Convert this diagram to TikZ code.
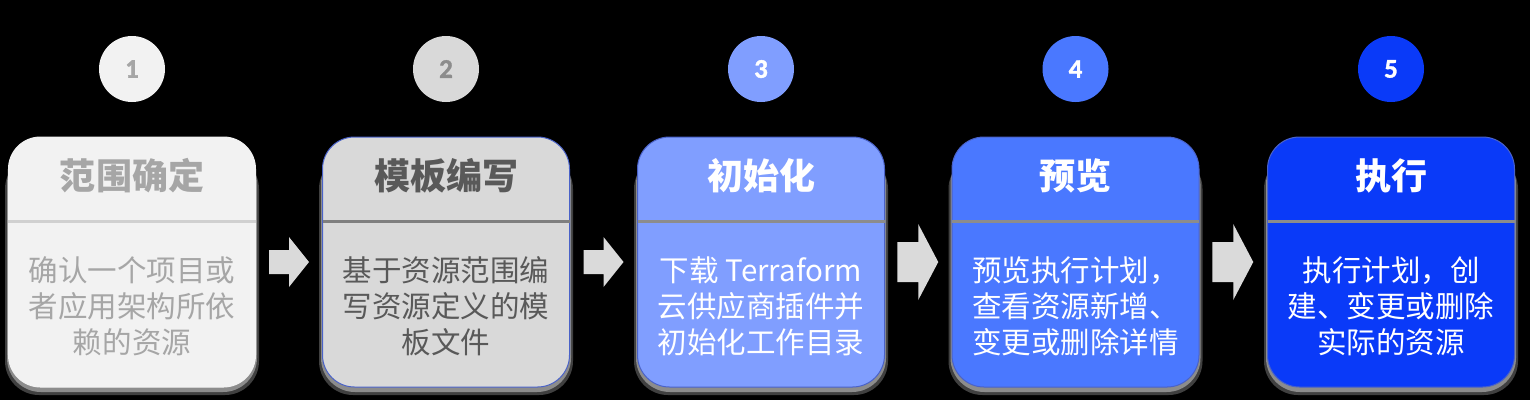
\documentclass[tikz,border=0pt]{standalone}
\usepackage{fontspec}
\newfontfamily\cjk{Noto Sans CJK SC}
\newfontfamily\numf{Carlito}[BoldFeatures={FakeBold=1.2}]
\usetikzlibrary{calc}
\definecolor{fA}{HTML}{F2F2F2}
\definecolor{fB}{HTML}{D9D9D9}
\definecolor{fC}{HTML}{809EFF}
\definecolor{fD}{HTML}{4A78FF}
\definecolor{fE}{HTML}{0A3AF8}
\definecolor{tA}{HTML}{A6A6A6}
\definecolor{tB}{HTML}{595959}
\definecolor{dA}{HTML}{D0D0D0}
\definecolor{dB}{HTML}{7F7F7F}
\definecolor{dC}{HTML}{8C8C8C}
\definecolor{edge}{HTML}{4A62C8}
\definecolor{arr}{HTML}{DADADA}
\begin{document}
\begin{tikzpicture}[x=1bp,y=-1bp,
  box/.style={rectangle, rounded corners=32bp, minimum width=247bp, minimum height=250bp, inner sep=0pt, line width=1bp},
  hd/.style={font=\cjk\bfseries\fontsize{36bp}{40bp}\selectfont, inner sep=0pt},
  bd/.style={font=\cjk\fontsize{29.5bp}{36bp}\selectfont, align=center, inner sep=0pt},
  num/.style={circle, minimum size=66bp, inner sep=0pt, font=\numf\bfseries\fontsize{27bp}{30bp}\selectfont},
  glow/.style={fill=white, rounded corners=34bp},
  divider/.style={line width=3bp},
  arrowshape/.style={fill=arr}
]
\fill[black] (0,0) rectangle (1530,400);
\useasboundingbox (0,0) rectangle (1530,400);

% glows
\foreach \cx in {132,446,761,1075.5,1391}{
  \fill[glow, opacity=0.25] (\cx-127,155) rectangle (\cx+127,395);
  \fill[glow, opacity=0.4] (\cx-125,150) rectangle (\cx+125,392);
}

% boxes
\node[box, fill=fA, draw=fA] (b1) at (132,262) {};
\node[box, fill=fB, draw=edge] (b2) at (446,262) {};
\node[box, fill=fC, draw=edge] (b3) at (761,262) {};
\node[box, fill=fD, draw=edge] (b4) at (1075.5,262) {};
\node[box, fill=fE, draw=edge] (b5) at (1391,262) {};

% dividers
\draw[divider, dA] ($(b1.north west)+(0.5,85)$) -- ($(b1.north east)+(-0.5,85)$);
\draw[divider, dB] ($(b2.north west)+(0.5,85)$) -- ($(b2.north east)+(-0.5,85)$);
\draw[divider, dC] ($(b3.north west)+(0.5,85)$) -- ($(b3.north east)+(-0.5,85)$);
\draw[divider, dC] ($(b4.north west)+(0.5,85)$) -- ($(b4.north east)+(-0.5,85)$);
\draw[divider, dC] ($(b5.north west)+(0.5,85)$) -- ($(b5.north east)+(-0.5,85)$);

% headers
\node[hd, text=tA] (h1) at ($(b1.north)+(0,39)$) {范围确定};
\node[hd, text=tB] (h2) at ($(b2.north)+(0,39)$) {模板编写};
\node[hd, text=white] (h3) at ($(b3.north)+(0,39)$) {初始化};
\node[hd, text=white] (h4) at ($(b4.north)+(0,39)$) {预览};
\node[hd, text=white] (h5) at ($(b5.north)+(0,39)$) {执行};

% bodies
\node[bd, text=tA] (t1) at ($(b1.north)+(0,170)$) {确认一个项目或\\者应用架构所依\\赖的资源};
\node[bd, text=tB] (t2) at ($(b2.north)+(0,170)$) {基于资源范围编\\写资源定义的模\\板文件};
\node[bd, text=white] (t3) at ($(b3.north)+(0,170)$) {下载 Terraform\\云供应商插件并\\初始化工作目录};
\node[bd, text=white] (t4) at ($(b4.north)+(0,170)$) {预览执行计划，\\查看资源新增、\\变更或删除详情};
\node[bd, text=white] (t5) at ($(b5.north)+(0,170)$) {执行计划，创\\建、变更或删除\\实际的资源};

% step numbers
\node[num, fill=fA, text=tA] (n1) at (132,69) {1};
\node[num, fill=fB, text=dC] (n2) at (446,69) {2};
\node[num, fill=fC, text=white] (n3) at (761,69) {3};
\node[num, fill=fD, text=white] (n4) at (1075.5,69) {4};
\node[num, fill=fE, text=white] (n5) at (1391,69) {5};

% arrows between boxes
\coordinate (a1) at ($(b1.east)!0.5!(b2.west)$);
\coordinate (a2) at ($(b2.east)!0.5!(b3.west)$);
\coordinate (a3) at ($(b3.east)!0.5!(b4.west)$);
\coordinate (a4) at ($(b4.east)!0.5!(b5.west)$);
\foreach \a in {a1,a2}{
  \fill[arrowshape] ($(\a)+(-20,-12)$) -- ($(\a)+(0,-12)$) -- ($(\a)+(0,-25)$) -- ($(\a)+(20,0)$)
     -- ($(\a)+(0,25)$) -- ($(\a)+(0,12)$) -- ($(\a)+(-20,12)$) -- cycle;
}
\foreach \a in {a3,a4}{
  \fill[arrowshape] ($(\a)+(-21,-20)$) -- ($(\a)+(0,-20)$) -- ($(\a)+(0,-38)$) -- ($(\a)+(20,0)$)
     -- ($(\a)+(0,38)$) -- ($(\a)+(0,20)$) -- ($(\a)+(-21,20)$) -- cycle;
}
\end{tikzpicture}
\end{document}
